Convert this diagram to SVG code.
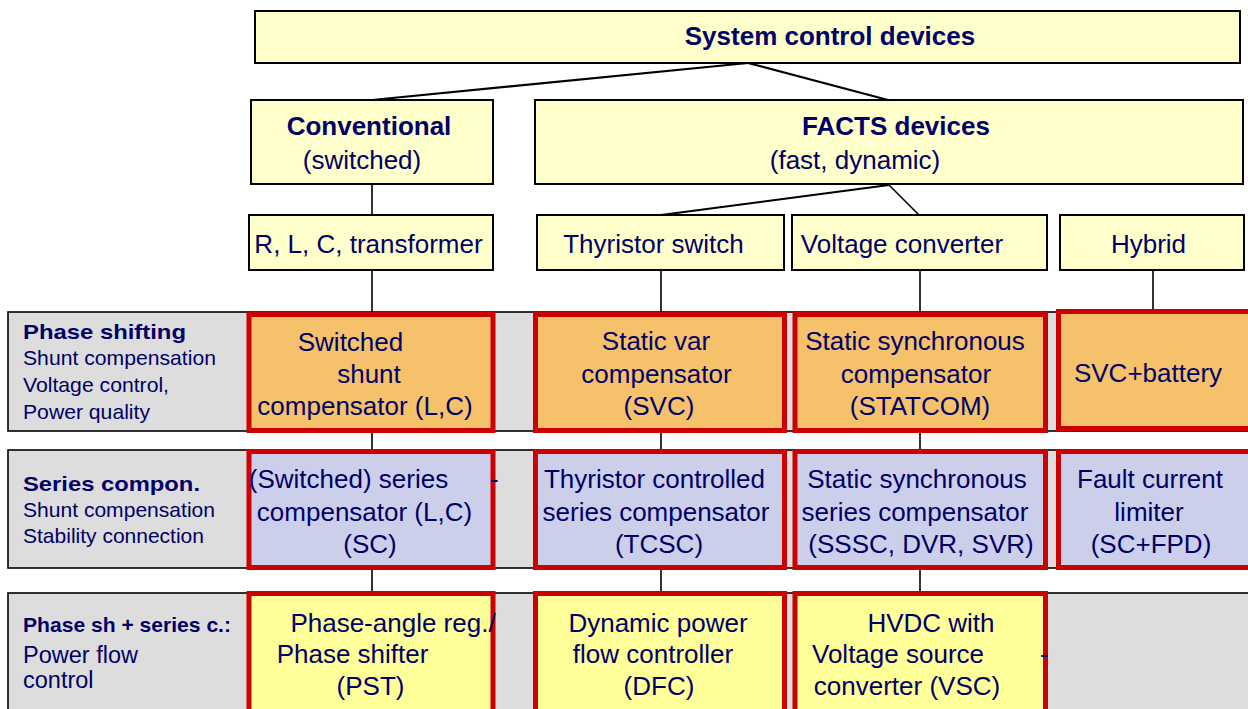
<svg xmlns="http://www.w3.org/2000/svg" width="1248" height="709" viewBox="0 0 1248 709">
  <style>
    text { font-family: "Liberation Sans", Arial, sans-serif; fill: #000066; }
    .t26 { font-size: 26px; text-anchor: middle; }
    .b26 { font-size: 26px; font-weight: bold; text-anchor: middle; }
    .lbl { font-size: 21px; }
    .lblb { font-size: 21px; font-weight: bold; }
    .head { fill: #FFFFCC; stroke: #000; stroke-width: 2; }
    .band { fill: #DDDDDD; stroke: #000; stroke-width: 1.6; }
    .cell { stroke: #CC0000; stroke-width: 5; }
    .shunt { fill: #F5C26B; }
    .series { fill: #CCCFEA; }
    .flow { fill: #FFFF99; }
    .wire { stroke: #000; fill: none; }
  </style>

  <!-- category bands -->
  <g id="band-phase-shifting">
    <rect class="band" x="8" y="312" width="1250" height="119"/>
    <text class="lblb" x="23" y="339" textLength="163" lengthAdjust="spacingAndGlyphs">Phase shifting</text>
    <text class="lbl" x="23" y="365" textLength="193" lengthAdjust="spacingAndGlyphs">Shunt compensation</text>
    <text class="lbl" x="23" y="392" textLength="146" lengthAdjust="spacingAndGlyphs">Voltage control,</text>
    <text class="lbl" x="23" y="419" textLength="127" lengthAdjust="spacingAndGlyphs">Power quality</text>
  </g>
  <g id="band-series">
    <rect class="band" x="8" y="450" width="1250" height="118"/>
    <text class="lblb" x="23" y="491" textLength="177" lengthAdjust="spacingAndGlyphs">Series compon.</text>
    <text class="lbl" x="23" y="517" textLength="192" lengthAdjust="spacingAndGlyphs">Shunt compensation</text>
    <text class="lbl" x="23" y="543" textLength="181" lengthAdjust="spacingAndGlyphs">Stability connection</text>
  </g>
  <g id="band-power-flow">
    <rect class="band" x="8" y="593" width="1250" height="130"/>
    <text class="lblb" x="23" y="632" textLength="208" lengthAdjust="spacingAndGlyphs">Phase sh + series c.:</text>
    <text class="lbl" x="23" y="663" style="font-size:23.5px">Power flow</text>
    <text class="lbl" x="23" y="688" style="font-size:23.5px">control</text>
  </g>

  <!-- connectors -->
  <g id="connectors">
    <line class="wire" stroke-width="2.2" x1="748" y1="63" x2="372" y2="100"/>
    <line class="wire" stroke-width="2.2" x1="748" y1="63" x2="888" y2="100"/>
    <line class="wire" stroke-width="2" x1="889" y1="185" x2="661" y2="215"/>
    <line class="wire" stroke-width="1.6" x1="889" y1="185" x2="919" y2="215"/>
    <line class="wire" stroke-width="1.6" x1="372" y1="185" x2="372" y2="215"/>
    <line class="wire" stroke-width="1.6" x1="372" y1="271" x2="372" y2="312"/>
    <line class="wire" stroke-width="1.6" x1="661" y1="271" x2="661" y2="312"/>
    <line class="wire" stroke-width="1.6" x1="920" y1="271" x2="920" y2="312"/>
    <line class="wire" stroke-width="1.6" x1="1153" y1="271" x2="1153" y2="309"/>
    <line class="wire" stroke-width="1.6" x1="372" y1="433" x2="372" y2="449"/>
    <line class="wire" stroke-width="1.6" x1="661" y1="433" x2="661" y2="449"/>
    <line class="wire" stroke-width="1.6" x1="920" y1="433" x2="920" y2="449"/>
    <line class="wire" stroke-width="1.6" x1="372" y1="570" x2="372" y2="591"/>
    <line class="wire" stroke-width="1.6" x1="661" y1="570" x2="661" y2="591"/>
    <line class="wire" stroke-width="1.6" x1="920" y1="570" x2="920" y2="591"/>
  </g>

  <!-- hierarchy headers -->
  <g id="system-control-devices">
    <rect class="head" x="255" y="11" width="985" height="52"/>
    <text class="b26" x="830" y="45">System control devices</text>
  </g>
  <g id="conventional">
    <rect class="head" x="251" y="100" width="242" height="84"/>
    <text class="b26" x="369" y="135">Conventional</text>
    <text class="t26" x="362" y="169">(switched)</text>
  </g>
  <g id="facts-devices">
    <rect class="head" x="535" y="100" width="708" height="84"/>
    <text class="b26" x="896" y="135">FACTS devices</text>
    <text class="t26" x="855" y="169">(fast, dynamic)</text>
  </g>
  <g id="rlc-transformer">
    <rect class="head" x="249" y="215" width="244" height="55"/>
    <text class="t26" x="368.5" y="253">R, L, C, transformer</text>
  </g>
  <g id="thyristor-switch">
    <rect class="head" x="537" y="215" width="247" height="55"/>
    <text class="t26" x="653.5" y="253">Thyristor switch</text>
  </g>
  <g id="voltage-converter">
    <rect class="head" x="792" y="215" width="255" height="55"/>
    <text class="t26" x="902" y="253">Voltage converter</text>
  </g>
  <g id="hybrid">
    <rect class="head" x="1060" y="215" width="184" height="55"/>
    <text class="t26" x="1148.5" y="253">Hybrid</text>
  </g>

  <!-- row 1: shunt devices -->
  <g id="switched-shunt-compensator">
    <rect class="cell shunt" x="249" y="314.5" width="244" height="116"/>
    <text class="t26" x="350.5" y="351">Switched</text>
    <text class="t26" x="369" y="383">shunt</text>
    <text class="t26" x="365" y="415">compensator (L,C)</text>
  </g>
  <g id="svc">
    <rect class="cell shunt" x="535.5" y="314.5" width="249" height="116"/>
    <text class="t26" x="656" y="350">Static var</text>
    <text class="t26" x="656.5" y="383">compensator</text>
    <text class="t26" x="659" y="415">(SVC)</text>
  </g>
  <g id="statcom">
    <rect class="cell shunt" x="795" y="314.5" width="250.5" height="116"/>
    <text class="t26" x="915" y="350">Static synchronous</text>
    <text class="t26" x="916" y="383">compensator</text>
    <text class="t26" x="920" y="415">(STATCOM)</text>
  </g>
  <g id="svc-battery">
    <rect class="cell shunt" x="1058.5" y="311.5" width="200" height="117"/>
    <text class="t26" x="1148" y="382">SVC+battery</text>
  </g>

  <!-- row 2: series devices -->
  <g id="switched-series-compensator">
    <rect class="cell series" x="249" y="451.5" width="244" height="116"/>
    <text class="t26" x="348.5" y="488">(Switched) series</text>
    <text x="490" y="488" style="font-size:26px">-</text>
    <text class="t26" x="364.5" y="521">compensator (L,C)</text>
    <text class="t26" x="370" y="553">(SC)</text>
  </g>
  <g id="tcsc">
    <rect class="cell series" x="535.5" y="451.5" width="249" height="116"/>
    <text class="t26" x="654.5" y="488">Thyristor controlled</text>
    <text class="t26" x="656" y="521">series compensator</text>
    <text class="t26" x="659" y="553">(TCSC)</text>
  </g>
  <g id="sssc">
    <rect class="cell series" x="795" y="451.5" width="250.5" height="116"/>
    <text class="t26" x="917" y="488">Static synchronous</text>
    <text class="t26" x="915" y="521">series compensator</text>
    <text class="t26" x="921" y="553">(SSSC, DVR, SVR)</text>
  </g>
  <g id="fault-current-limiter">
    <rect class="cell series" x="1058.5" y="451.5" width="200" height="116"/>
    <text class="t26" x="1150" y="488">Fault current</text>
    <text class="t26" x="1149" y="521">limiter</text>
    <text class="t26" x="1151" y="553">(SC+FPD)</text>
  </g>

  <!-- row 3: power flow devices -->
  <g id="pst">
    <rect class="cell flow" x="249" y="593.5" width="244" height="140"/>
    <text class="t26" x="393" y="632">Phase-angle reg./</text>
    <text class="t26" x="352.5" y="663">Phase shifter</text>
    <text class="t26" x="370.5" y="695">(PST)</text>
  </g>
  <g id="dfc">
    <rect class="cell flow" x="535.5" y="593.5" width="249" height="140"/>
    <text class="t26" x="658" y="632">Dynamic power</text>
    <text class="t26" x="653" y="663">flow controller</text>
    <text class="t26" x="659" y="695">(DFC)</text>
  </g>
  <g id="hvdc-vsc">
    <rect class="cell flow" x="795" y="593.5" width="250.5" height="140"/>
    <text class="t26" x="931" y="632">HVDC with</text>
    <text class="t26" x="898" y="663">Voltage source</text>
    <text x="1040" y="663" style="font-size:26px">-</text>
    <text class="t26" x="907" y="695">converter (VSC)</text>
  </g>
</svg>
